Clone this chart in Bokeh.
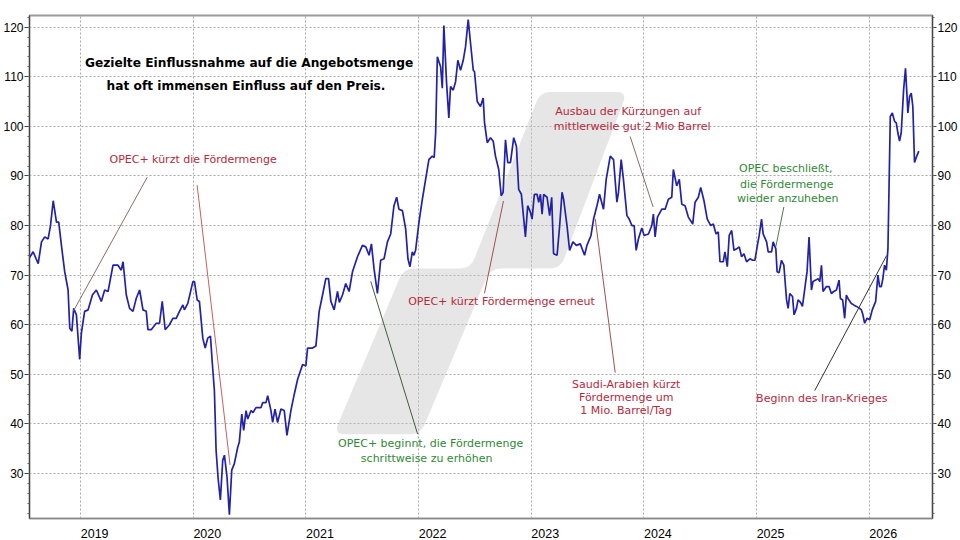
import math
from bokeh.plotting import figure
from bokeh.models import Range1d, LinearAxis, FixedTicker, Label, Grid, CustomJSTickFormatter
from bokeh.embed import file_html
from bokeh.resources import INLINE

# ---- data: Brent price (USD/barrel), x = fractional year ----
t2018 = [2018.539, 2018.578, 2018.623, 2018.652, 2018.681, 2018.711, 2018.732, 2018.756, 2018.785, 2018.805,
         2018.829, 2018.858, 2018.888, 2018.903, 2018.922, 2018.938, 2018.962, 2018.991]
v2018 = [73.3, 74.7, 72.3, 76.7, 77.7, 77.3, 80, 85, 80.7, 80.7, 76, 70.7, 67, 59.3, 58.7, 63.3, 62, 53]

t2019 = [2019.006, 2019.035, 2019.066, 2019.104, 2019.139, 2019.183, 2019.213, 2019.243, 2019.287, 2019.331,
         2019.360, 2019.376, 2019.405, 2019.434, 2019.464, 2019.493, 2019.523, 2019.553, 2019.582, 2019.597,
         2019.626, 2019.671, 2019.700, 2019.724, 2019.750, 2019.788, 2019.818, 2019.848, 2019.877, 2019.907,
         2019.921, 2019.951, 2019.996]
v2019 = [58.3, 62.7, 63, 66, 67, 64.7, 67, 66.7, 72, 72, 71, 72.7, 66, 63.3, 62.7, 65.3, 67, 63, 62.7, 59,
         59, 60.3, 60.3, 64.7, 59, 60, 61.3, 61.3, 62.7, 64, 63, 64.3, 68.7]

t2020 = [2020.010, 2020.034, 2020.054, 2020.084, 2020.105, 2020.128, 2020.152, 2020.167, 2020.187, 2020.202,
         2020.220, 2020.240, 2020.261, 2020.276, 2020.299, 2020.320, 2020.341, 2020.364, 2020.394, 2020.408,
         2020.430, 2020.447, 2020.468, 2020.483, 2020.512, 2020.530, 2020.556, 2020.601, 2020.616, 2020.645,
         2020.660, 2020.689, 2020.704, 2020.725, 2020.748, 2020.778, 2020.807, 2020.831, 2020.866, 2020.896,
         2020.926, 2020.970, 2020.999]
v2020 = [68.7, 65, 64.7, 57.3, 55.3, 57.3, 57.7, 52.7, 46.7, 34.7, 29, 24.7, 32.7, 33.7, 29.3, 21.7, 30.7, 32,
         35.3, 36.3, 42, 38.7, 42.7, 41, 42.7, 42.3, 43.3, 43.3, 44.3, 44.3, 45.7, 42.7, 40.3, 43, 40.3, 43,
         42.7, 37.7, 42.7, 46, 49, 52, 51.7]

t2021 = [2021.014, 2021.058, 2021.088, 2021.103, 2021.117, 2021.147, 2021.176, 2021.200, 2021.221, 2021.250,
         2021.280, 2021.296, 2021.324, 2021.353, 2021.383, 2021.413, 2021.457, 2021.501, 2021.531, 2021.560,
         2021.581, 2021.604, 2021.634, 2021.663, 2021.693, 2021.723, 2021.752, 2021.781, 2021.805, 2021.825,
         2021.856, 2021.885, 2021.905, 2021.923, 2021.944, 2021.958, 2021.973]
v2021 = [55.3, 55.3, 55.7, 59.3, 62.7, 66, 69.3, 69.3, 64.7, 63, 66.7, 64.5, 66, 68.3, 66.7, 70.7, 73.7, 76,
         75.7, 74, 76.3, 71.3, 66.3, 73, 73.3, 76.7, 78.3, 84, 85.7, 83.3, 83, 79.3, 73.3, 71.7, 74.7, 74, 75]

t2022 = [2022.003, 2022.033, 2022.062, 2022.091, 2022.121, 2022.138, 2022.151, 2022.166, 2022.195, 2022.210,
         2022.224, 2022.248, 2022.268, 2022.283, 2022.307, 2022.328, 2022.348, 2022.372, 2022.396, 2022.416,
         2022.440, 2022.461, 2022.485, 2022.496, 2022.520, 2022.549, 2022.573, 2022.585, 2022.609, 2022.638,
         2022.662, 2022.682, 2022.711, 2022.733, 2022.750, 2022.771, 2022.791, 2022.815, 2022.844, 2022.868,
         2022.888, 2022.912, 2022.933, 2022.948, 2022.968, 2022.992]
v2022 = [80.7, 85.3, 89.3, 93.3, 94, 93.7, 98.7, 114, 112, 107.7, 120.3, 108.7, 101.7, 108, 107.3, 109, 113.3,
         111.3, 113.3, 116, 121.5, 116.7, 111.3, 111, 105, 104, 105.7, 100.7, 96.7, 97.7, 97, 94, 91.3, 86,
         86.7, 97.3, 92.7, 92.7, 97.7, 96, 87.3, 86.3, 81.3, 77.7, 84, 82.7]

t2023 = [2023.007, 2023.027, 2023.051, 2023.066, 2023.081, 2023.096, 2023.110, 2023.140, 2023.163, 2023.181,
         2023.198, 2023.229, 2023.252, 2023.273, 2023.287, 2023.317, 2023.340, 2023.370, 2023.400, 2023.435,
         2023.473, 2023.494, 2023.530, 2023.553, 2023.583, 2023.606, 2023.641, 2023.665, 2023.701, 2023.730,
         2023.760, 2023.774, 2023.798, 2023.818, 2023.849, 2023.869, 2023.893, 2023.913, 2023.931, 2023.951,
         2023.981]
v2023 = [81.3, 86.3, 86.3, 84.7, 86.3, 82.3, 86.3, 85.7, 82, 85.7, 74.3, 74, 80, 86.7, 85.3, 80, 75, 76.7, 76,
         76.3, 74, 76, 78, 81.3, 84, 86.3, 83.3, 89.3, 94, 93.3, 84.7, 86.7, 93.3, 89.3, 82, 81.3, 80, 80, 75,
         77.3, 79.5]

t2024 = [2024.002, 2024.040, 2024.070, 2024.084, 2024.099, 2024.120, 2024.159, 2024.188, 2024.217, 2024.247,
         2024.261, 2024.291, 2024.314, 2024.336, 2024.365, 2024.394, 2024.433, 2024.454, 2024.483, 2024.504,
         2024.533, 2024.562, 2024.593, 2024.616, 2024.640, 2024.660, 2024.675, 2024.704, 2024.719, 2024.740,
         2024.757, 2024.779, 2024.799, 2024.823, 2024.846, 2024.867, 2024.888, 2024.911, 2024.941, 2024.965,
         2024.985]
v2024 = [78, 78.3, 80, 82.3, 77.7, 81.7, 83.3, 83.3, 85.3, 85.7, 91.3, 88, 89.3, 84.3, 84, 81.7, 80.3, 84.7,
         85.7, 87.7, 85, 81.3, 80, 80.3, 78.3, 78.7, 72.7, 72.7, 74.7, 71.7, 78, 79, 75, 75.3, 75.7, 73.7, 74.3,
         72.7, 73.3, 73, 73]

t2025 = [2025.005, 2025.023, 2025.044, 2025.058, 2025.089, 2025.103, 2025.133, 2025.147, 2025.171, 2025.182,
         2025.200, 2025.221, 2025.242, 2025.266, 2025.280, 2025.295, 2025.319, 2025.333, 2025.354, 2025.368,
         2025.390, 2025.407, 2025.428, 2025.448, 2025.466, 2025.487, 2025.501, 2025.525, 2025.546, 2025.561,
         2025.576, 2025.590, 2025.620, 2025.643, 2025.664, 2025.685, 2025.709, 2025.732, 2025.744, 2025.764,
         2025.782, 2025.797, 2025.811, 2025.841, 2025.862, 2025.886, 2025.915, 2025.930, 2025.944, 2025.959,
         2025.980]
v2025 = [75.7, 78, 81.3, 78.3, 76.7, 74.7, 74.7, 76.7, 75.3, 70.7, 70.5, 73, 72, 65, 63.3, 66.3, 65.7, 62,
         63.3, 65, 64.5, 63.7, 67.3, 70.7, 77.7, 67, 68.7, 69, 69.3, 68.7, 72, 66.7, 67.7, 67.7, 66.3, 66.7, 67,
         69, 65.3, 65, 61.3, 66, 65.3, 64.3, 64, 63.7, 63.3, 63, 62, 60.3, 61.3]

t2026 = [2026.004, 2026.027, 2026.057, 2026.077, 2026.092, 2026.107, 2026.121, 2026.136, 2026.152, 2026.166,
         2026.175, 2026.187, 2026.205, 2026.225, 2026.240, 2026.254, 2026.269, 2026.284, 2026.305, 2026.322,
         2026.334, 2026.343, 2026.358, 2026.373, 2026.387, 2026.402, 2026.422, 2026.440]
v2026 = [61, 63, 64.7, 70, 67.7, 67.7, 69.3, 72, 71, 75.3, 86.7, 102, 102.7, 101, 100.7, 98.7, 97, 98.7, 107.3,
         111.7, 106.7, 102.7, 106, 106.7, 104, 92.7, 94, 95]

years = [2019, 2020, 2021, 2022, 2023, 2024, 2025, 2026]
price_ticks = [30, 40, 50, 60, 70, 80, 90, 100, 110, 120]

T = t2018 + t2019 + t2020 + t2021 + t2022 + t2023 + t2024 + t2025 + t2026
V = v2018 + v2019 + v2020 + v2021 + v2022 + v2023 + v2024 + v2025 + v2026
assert len(T) == len(V), (len(T), len(V))

# ---- geometry ----
W, H = 960, 540
FL, FR, FT, FB = 28, 27, 15, 18
FW, FH = W - FL - FR, H - FT - FB
X0, X1 = 2018.5456, 2026.5616
Y0, Y1 = 20.94, 122.34
PX_PER_YEAR = FW / (X1 - X0)


def dx(px):
    return X0 + (px - FL) / FW * (X1 - X0)


def dy(py):
    return Y1 - (py - FT) / FH * (Y1 - Y0)


p = figure(width=W, height=H, x_range=Range1d(X0, X1), y_range=Range1d(Y0, Y1),
           output_backend="svg", toolbar_location=None, x_axis_type=None, y_axis_type=None,
           min_border_left=FL, min_border_right=FR, min_border_top=FT, min_border_bottom=FB)
p.background_fill_color = "white"
p.border_fill_color = "white"
p.outline_line_color = "#999999"
p.outline_line_width = 2

yt = FixedTicker(ticks=price_ticks, minor_ticks=list(range(22, 123, 2)))
xt = FixedTicker(ticks=years, minor_ticks=[])


def style_y(ax):
    ax.axis_line_color = "#444444"
    ax.major_tick_line_color = "#444444"
    ax.minor_tick_line_color = "#666666"
    ax.major_tick_out = 5
    ax.major_tick_in = 0
    ax.minor_tick_out = 2
    ax.minor_tick_in = 0
    ax.major_label_standoff = 1
    ax.major_label_text_font = "Liberation Sans"
    ax.major_label_text_font_size = "12px"
    ax.major_label_text_color = "black"


ly = LinearAxis(ticker=yt, major_label_overrides={t: str(t) for t in price_ticks})
style_y(ly)
p.add_layout(ly, "left")
ry = LinearAxis(ticker=yt, major_label_overrides={t: str(t) for t in price_ticks})
style_y(ry)
ry.major_tick_out = 4
p.add_layout(ry, "right")

# bottom axis: year labels start at their (Jan 1) grid line, as in the original,
# so the (invisible) label ticks sit half a label width to the right of each year.
half_label = 14.0 / PX_PER_YEAR
bx = LinearAxis(ticker=FixedTicker(ticks=[y + half_label for y in years], minor_ticks=[]),
                formatter=CustomJSTickFormatter(code="return String(Math.floor(tick));"))
bx.axis_line_color = "#888888"
bx.major_tick_line_color = None
bx.minor_tick_line_color = None
bx.major_label_standoff = 4
bx.major_label_text_font = "Liberation Sans"
bx.major_label_text_font_size = "12.5px"
bx.major_label_text_color = "black"
p.add_layout(bx, "below")

for dim, tk in ((0, xt), (1, FixedTicker(ticks=price_ticks, minor_ticks=[]))):
    g = Grid(dimension=dim, ticker=tk, grid_line_color="#a8a8a8", grid_line_dash="2 2", grid_line_width=1)
    p.add_layout(g)

# ---- grey watermark shape (pixel outline, rounded corners) ----
shape_px = [(333, 437), (403, 270), (470, 270), (540, 92), (627, 92), (560, 270), (490, 270), (420, 437)]


def rounded(pts, r=11, n=8):
    out = []
    N = len(pts)
    for i in range(N):
        x0, y0 = pts[i - 1]
        x1, y1 = pts[i]
        x2, y2 = pts[(i + 1) % N]
        d1 = math.hypot(x0 - x1, y0 - y1)
        d2 = math.hypot(x2 - x1, y2 - y1)
        rr = min(r, d1 / 2.2, d2 / 2.2)
        ax_, ay_ = x1 + (x0 - x1) * rr / d1, y1 + (y0 - y1) * rr / d1
        bx_, by_ = x1 + (x2 - x1) * rr / d2, y1 + (y2 - y1) * rr / d2
        for k in range(n + 1):
            t = k / n
            qx = (1 - t) ** 2 * ax_ + 2 * (1 - t) * t * x1 + t * t * bx_
            qy = (1 - t) ** 2 * ay_ + 2 * (1 - t) * t * y1 + t * t * by_
            out.append((qx, qy))
    return out


rp = rounded(shape_px)
p.patch([dx(a) for a, b in rp], [dy(b) for a, b in rp], fill_color="#c8c8c8", fill_alpha=0.45, line_color=None)

# ---- price line ----
p.line(T, V, line_color="#2222a8", line_width=1.7)

# ---- leader lines ----
RED = "#b8293b"
GREEN = "#2f8a35"
leaders = [
    ((72, 313), (146, 178), "#8d6b6b"),
    ((196, 186), (229, 468), "#c46060"),
    ((484, 295), (503, 202), "#a05050"),
    ((630, 137), (653, 208), "#8d6b6b"),
    ((595, 220), (615, 375), "#a05050"),
    ((784, 208), (776, 248), "#4d7a4d"),
    ((815, 393), (887, 257), "#333333"),
    ((370, 283), (417, 437), "#3f5f3f"),
]
p.segment(x0=[dx(a[0]) for a, b, c in leaders], y0=[dy(a[1]) for a, b, c in leaders],
          x1=[dx(b[0]) for a, b, c in leaders], y1=[dy(b[1]) for a, b, c in leaders],
          line_color=[c for a, b, c in leaders], line_width=1)


def lab(text, px, py, color, size="11px", font="DejaVu Sans", bold=False):
    p.add_layout(Label(x=dx(px), y=dy(py), text=text, text_align="center", text_baseline="middle",
                       text_color=color, text_font_size=size, text_font=font,
                       text_font_style="bold" if bold else "normal"))


lab(".Rohöl Brent ($/b) / London (LSE) 17.07.2018 bis 09.06.2026", 481, 6, "black",
    size="11.5px", font="Liberation Sans", bold=True)
lab("Gezielte Einflussnahme auf die Angebotsmenge", 248, 63, "black", size="12.2px", bold=True)
lab("hat oft immensen Einfluss auf den Preis.", 245, 86, "black", size="12.2px", bold=True)

lab("OPEC+ kürzt die Fördermenge", 192, 160, RED)
lab("OPEC+ kürzt Fördermenge erneut", 501, 303, RED)
lab("Ausbau der Kürzungen auf", 628, 112, RED)
lab("mittlerweile gut 2 Mio Barrel", 632, 127, RED)
lab("Saudi-Arabien kürzt", 626, 387, RED)
lab("Fördermenge um", 626, 400, RED)
lab("1 Mio. Barrel/Tag", 626, 413, RED)
lab("Beginn des Iran-Krieges", 822, 401, RED)
lab("OPEC beschließt,", 786, 169, GREEN)
lab("die Fördermenge", 787, 185, GREEN)
lab("wieder anzuheben", 788, 199, GREEN)
lab("OPEC+ beginnt, die Fördermenge", 430, 446, GREEN)
lab("schrittweise zu erhöhen", 426, 462, GREEN)

open("out.html", "w").write(file_html(p, INLINE))
